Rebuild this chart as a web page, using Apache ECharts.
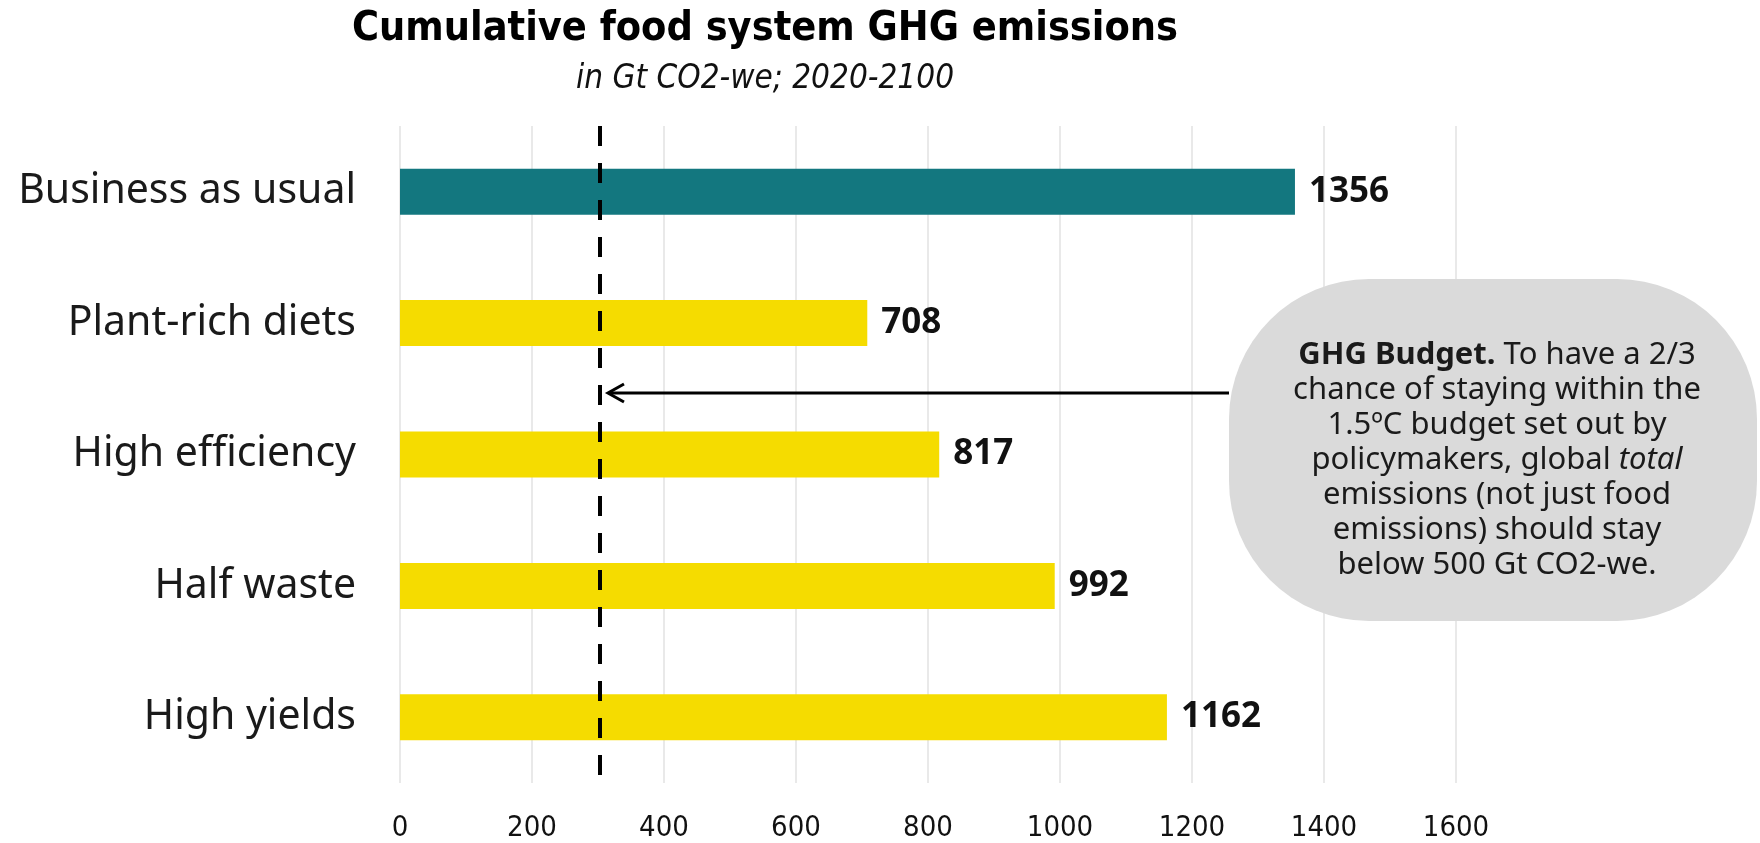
<!DOCTYPE html>
<html>
<head>
<meta charset="utf-8">
<title>Cumulative food system GHG emissions</title>
<script src="https://cdn.jsdelivr.net/npm/echarts@6/dist/echarts.min.js"></script>
<style>
  html, body { margin: 0; padding: 0; background: #fff; }
  #chart { width: 1760px; height: 843px; }
</style>
</head>
<body>
<div id="chart"></div>
<script>
// data
var scenarios = ['Business as usual', 'Plant-rich diets', 'High efficiency', 'Half waste', 'High yields'];
var emissions = [1356, 708, 817, 992, 1162];
var barColors = ['#13777f', '#f5dc00', '#f5dc00', '#f5dc00', '#f5dc00'];
var xTicks = [0, 200, 400, 600, 800, 1000, 1200, 1400, 1600];
var budgetLine = [303];

var condensed = '"DejaVu Sans Condensed", "Liberation Sans Narrow", sans-serif';

var myChart = echarts.init(document.getElementById('chart'));

var option = {
    backgroundColor: '#fff',
    animation: false,
    title: {
        text: 'Cumulative food system GHG emissions',
        subtext: 'in Gt CO2-we; 2020-2100',
        left: 760,
        textAlign: 'center',
        top: 4,
        itemGap: 13,
        textStyle: {
            fontFamily: condensed,
            fontSize: 41,
            fontWeight: 'bold',
            color: '#000'
        },
        subtextStyle: {
            fontFamily: condensed,
            fontSize: 33,
            fontStyle: 'italic',
            color: '#111'
        }
    },
    grid: { left: 400, right: 304, top: 126, bottom: 53, containLabel: false },
    xAxis: {
        type: 'value',
        min: xTicks[0],
        max: xTicks[xTicks.length - 1],
        interval: 200,
        axisLine: { show: false },
        axisTick: { show: false },
        splitLine: { show: true, lineStyle: { color: '#e2e2e2', width: 1.5 } },
        axisLabel: {
            margin: 31,
            fontFamily: condensed,
            fontSize: 29,
            color: '#111',
            formatter: function (v) { return String(v); }
        }
    },
    yAxis: {
        type: 'category',
        inverse: true,
        data: scenarios,
        axisLine: { show: false },
        axisTick: { show: false },
        axisLabel: {
            margin: 44,
            fontFamily: '"Noto Sans", sans-serif',
            fontSize: 41,
            color: '#1a1a1a'
        }
    },
    series: [
        {
            type: 'bar',
            barWidth: 46,
            data: emissions.map(function (v, i) {
                return { value: v, itemStyle: { color: barColors[i] } };
            }),
            label: {
                show: true,
                position: 'right',
                distance: 14,
                fontFamily: '"Noto Sans", sans-serif',
                fontWeight: 'bold',
                fontSize: 35,
                color: '#111'
            },
            markLine: {
                silent: true,
                symbol: 'none',
                label: { show: false },
                lineStyle: { color: '#000', width: 4, type: [20, 17] },
                data: [{ xAxis: budgetLine[0] }]
            },
            z: 2
        }
    ]
};

myChart.setOption(option);

// annotation bubble + arrow pointing at the budget line
var bx = 1229, by = 279, bw = 528, bh = 342;
var lineX = myChart.convertToPixel({ xAxisIndex: 0 }, budgetLine[0]);
var arrowY = 393;
var tipX = lineX + 8;

myChart.setOption({
    graphic: [
        {
            type: 'rect',
            shape: { x: bx, y: by, width: bw, height: bh, r: 140 },
            style: { fill: '#dadada' },
            z: 10
        },
        {
            type: 'text',
            x: bx + bw / 2 + 4,
            y: by + bh / 2 + 10,
            z: 11,
            style: {
                text: '{b|GHG Budget.} To have a 2/3\nchance of staying within the\n1.5ºC budget set out by\npolicymakers, global {i|total}\nemissions (not just food\nemissions) should stay\nbelow 500 Gt CO2-we.',
                align: 'center',
                verticalAlign: 'middle',
                fontFamily: '"Noto Sans", sans-serif',
                fontSize: 31,
                lineHeight: 35,
                fill: '#1a1a1a',
                rich: {
                    b: { fontWeight: 'bold', fontSize: 31, fontFamily: '"Noto Sans", sans-serif', lineHeight: 35 },
                    i: { fontStyle: 'italic', fontSize: 31, fontFamily: '"Noto Sans", sans-serif', lineHeight: 35 }
                }
            }
        },
        {
            type: 'line',
            shape: { x1: bx, y1: arrowY, x2: tipX + 2, y2: arrowY },
            style: { stroke: '#000', lineWidth: 3 },
            z: 11
        },
        {
            type: 'polyline',
            shape: { points: [[tipX + 16, arrowY - 9], [tipX, arrowY], [tipX + 16, arrowY + 9]] },
            style: { stroke: '#000', lineWidth: 3, fill: null },
            z: 11
        }
    ]
});
</script>
</body>
</html>
